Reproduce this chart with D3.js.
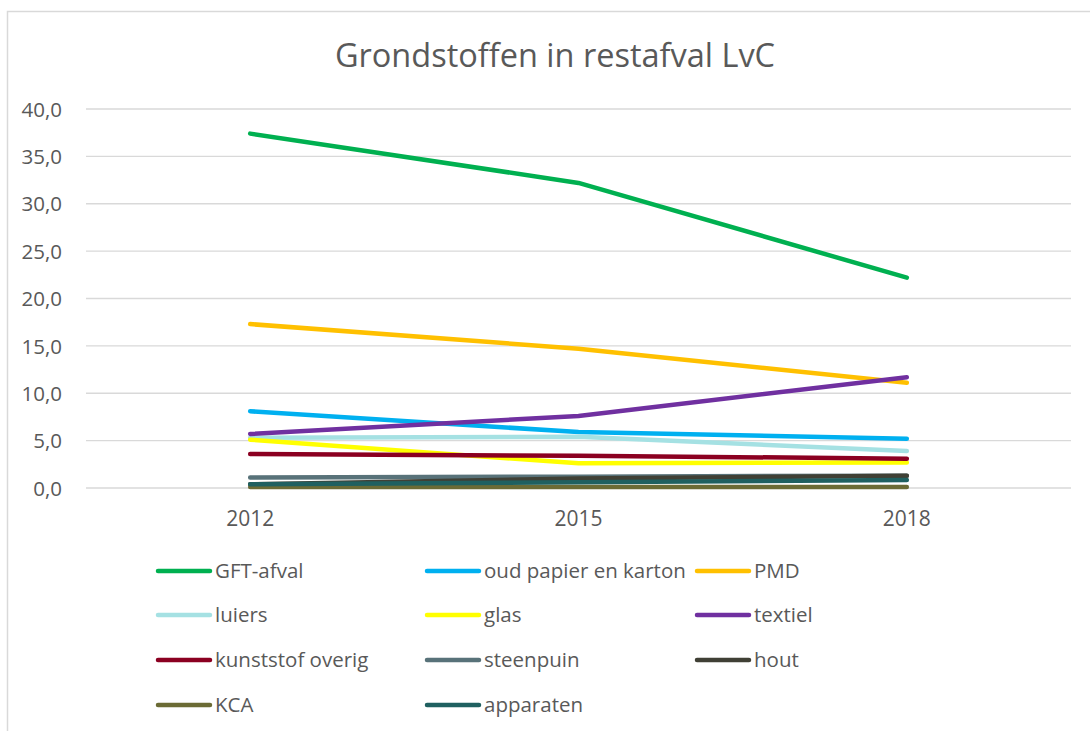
<!DOCTYPE html>
<html><head><meta charset="utf-8">
<script src="https://cdn.jsdelivr.net/npm/d3@7"></script>
<style>body{margin:0;background:#fff;} svg{display:block;}</style>
</head><body>
<svg id="c" width="1090" height="731"></svg>
<script>
const years = ["2012", "2015", "2018"];
const yTicks = [0, 5, 10, 15, 20, 25, 30, 35, 40];
const seriesNames = ["GFT-afval", "oud papier en karton", "PMD", "luiers", "glas", "textiel", "kunststof overig", "steenpuin", "hout", "KCA", "apparaten"];
const seriesColors = ["#00B050", "#00B0F0", "#FFC000", "#A5E1E3", "#FFFF00", "#7030A0", "#8B0021", "#587279", "#404035", "#6B6B35", "#1F6060"];
const gft = [37.4, 32.2, 22.2];
const papier = [8.1, 5.9, 5.2];
const pmd = [17.3, 14.7, 11.1];
const luiers = [5.3, 5.4, 3.9];
const glas = [5.1, 2.6, 2.7];
const textiel = [5.7, 7.6, 11.7];
const kunststof = [3.6, 3.4, 3.1];
const steenpuin = [1.1, 1.2, 1.3];
const hout = [0.4, 1.0, 1.3];
const kca = [0.1, 0.1, 0.1];
const apparaten = [0.4, 0.6, 0.85];
const seriesValues = [gft, papier, pmd, luiers, glas, textiel, kunststof, steenpuin, hout, kca, apparaten];

const svg = d3.select("#c");
const font = "'Open Sans', 'Liberation Sans', sans-serif";
const textCol = "#595959";

// chart border
svg.append("rect").attr("x", 7.5).attr("y", 11.5).attr("width", 1200).attr("height", 800)
  .attr("fill", "none").attr("stroke", "#D9D9D9").attr("stroke-width", 1.5);

svg.append("text").attr("x", 555).attr("y", 67).attr("text-anchor", "middle")
  .attr("font-family", font).attr("font-size", 32.5).attr("fill", textCol)
  .text("Grondstoffen in restafval LvC");

const x = d3.scaleBand().domain(years).range([86, 1071]);
const y = d3.scaleLinear().domain([0, 40]).range([488, 109]);

const yAxis = d3.axisLeft(y).tickValues(yTicks).tickSize(0).tickPadding(0)
  .tickFormat(d => d3.format(".1f")(d).replace(".", ","));
const gy = svg.append("g").attr("transform", "translate(62,0)").call(yAxis);
gy.select(".domain").remove();
gy.selectAll("text").attr("font-family", font).attr("font-size", 20.5).attr("fill", textCol).attr("dy", "0.35em");

// gridlines
svg.append("g").selectAll("line").data(yTicks).join("line")
  .attr("x1", 86).attr("x2", 1071).attr("y1", d => y(d)).attr("y2", d => y(d))
  .attr("stroke", "#D9D9D9").attr("stroke-width", 1.3);

const xAxis = d3.axisBottom(x).tickSize(0).tickPadding(0);
const gx = svg.append("g").attr("transform", "translate(0,519)").call(xAxis);
gx.select(".domain").remove();
gx.selectAll("text").attr("font-family", font).attr("font-size", 21).attr("fill", textCol).attr("dy", "0.35em");

const line = d3.line().x((d, i) => x(years[i]) + x.bandwidth() / 2).y(d => y(d));
svg.append("g").selectAll("path").data(seriesValues).join("path")
  .attr("d", d => line(d)).attr("fill", "none")
  .attr("stroke", (d, i) => seriesColors[i]).attr("stroke-width", 4.5)
  .attr("stroke-linecap", "round").attr("stroke-linejoin", "round");

// legend
const colX = [158, 427, 697];
const rowY = [571, 615, 660, 705];
const lg = svg.append("g").selectAll("g").data(seriesNames).join("g")
  .attr("transform", (d, i) => `translate(${colX[i % 3]},${rowY[Math.floor(i / 3)]})`);
lg.append("line").attr("x1", 0).attr("x2", 52).attr("y1", 0).attr("y2", 0)
  .attr("stroke", (d, i) => seriesColors[i]).attr("stroke-width", 4.5).attr("stroke-linecap", "round");
lg.append("text").attr("x", 57).attr("y", 0).attr("dy", "0.35em")
  .attr("font-family", font).attr("font-size", 20.5).attr("fill", textCol).text(d => d);
</script>
</body></html>
